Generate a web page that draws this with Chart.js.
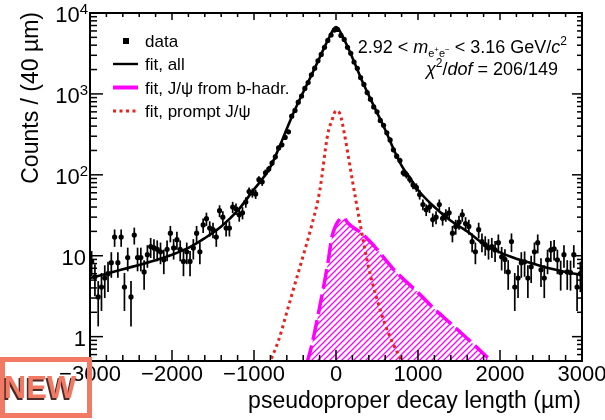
<!DOCTYPE html>
<html>
<head>
<meta charset="utf-8">
<script src="https://cdn.jsdelivr.net/npm/chart.js@4.4.1/dist/chart.umd.min.js"></script>
<style>
  html, body { margin: 0; padding: 0; background: #fff; }
  #wrap { width: 605px; height: 420px; position: relative; }
</style>
</head>
<body>
<div id="wrap"><canvas id="decayChart"></canvas></div>
<script>
// histogram: 150 bins of 40 um from -3000 to 3000 um
const binWidth = 40;
const xMin = -3000, xMax = 3000;
const yMin = 0.5, yMax = 10000;

const counts = [
  8.5, 5.5, 3.1, 4.1, 5.3, 6, 8.2, 17, 8.2, 17, 4.1, 9.5, 3.1, 18, 9.5, 9.5, 6.3, 10.3, 13, 12.5,
  12, 11.2, 8.9, 12, 19, 12.5, 15.8, 12, 8.5, 11.2, 8.5, 12.5, 19, 11.2, 24, 28.7, 22, 21,
  17, 36, 30, 22, 22, 40, 38, 32, 34, 46, 62, 60, 58, 87, 82, 106, 118, 140, 167, 215, 235, 290, 340,
  530, 625, 790, 940, 1170, 1380, 1720, 2080, 2570, 3080, 3770, 4580, 5350, 6150,
  6250, 5280, 4720, 3760, 3170, 2480, 2070, 1590, 1310, 1040, 860, 690, 600, 470,
  410, 330, 270, 204, 170, 150, 106, 100, 88, 75, 70, 57, 43, 37, 40, 28, 30, 43, 29, 32,
  34, 19, 23, 26, 32, 25, 23, 14.9, 11.2, 21, 14.9, 13.7, 12.5, 13, 11.8, 14.5, 9.7, 9, 6.3, 15,
  4.1, 5.3, 8.2, 8.4, 5.3, 7.3, 11.2, 14.5, 6.7, 5.3, 8.9, 11.8, 12.2, 8.9, 6.2, 10.3, 6.3, 6.2, 10.3, 4.1, 6
];
const binCenters = counts.map((c, i) => xMin + binWidth * (i + 0.5));

// fit, all
const fitAllX = [-3000, -2600, -2200, -2000, -1800, -1600, -1400, -1200, -1000, -900, -800, -700, -600, -500, -400, -300, -200, -100, 0,
  100, 200, 300, 400, 500, 600, 700, 800, 900, 1000, 1200, 1400, 1600, 1800, 2000, 2200, 2400, 2600, 2800, 3000];
const fitAllY = [5.3, 6.8, 8.8, 10.3, 12.5, 16.5, 23, 36, 66, 88, 125, 210, 370, 640, 1050, 1700, 2800, 4600, 6700,
  4700, 2800, 1600, 960, 590, 360, 210, 130, 92, 65, 40, 27, 20, 14, 11, 9.2, 8, 7, 6.3, 5.8];

// fit, prompt J/psi
const promptX = [-820, -700, -600, -500, -400, -300, -200, -100, -50, 0, 50, 100, 200, 300, 400, 500, 600, 700, 800];
const promptY = [0.45, 0.9, 2, 4.5, 10, 23, 62, 320, 470, 620, 560, 330, 85, 23, 7, 2.9, 1.4, 0.8, 0.5];

// fit, J/psi from b-hadrons
const bHadrX = [-360, -300, -200, -100, -50, 0, 50, 90, 150, 250, 300, 400, 500, 600, 700, 800, 1000, 1200, 1400, 1600, 1850];
const bHadrY = [0.45, 0.75, 2.3, 8, 17, 24, 28.5, 29.5, 25, 21, 19.5, 15.5, 12, 9, 6.8, 5.4, 3.5, 2.2, 1.45, 0.95, 0.55];

const xTickLabels = [-3000, -2000, -1000, 0, 1000, 2000, 3000];
const yTickLabels = [1, 10, 100, 1000, 10000];

const FONT = "'Liberation Sans', Arial, Helvetica, sans-serif";

function toXY(xs, ys) {
  return xs.map((x, i) => ({ x: x, y: ys[i] }));
}

// diagonal hatch for the b-hadron component
function makeHatch() {
  const c = document.createElement('canvas');
  c.width = 6; c.height = 6;
  const g = c.getContext('2d');
  g.strokeStyle = '#ff00ff';
  g.lineWidth = 1.3;
  g.beginPath();
  g.moveTo(-1, 7); g.lineTo(7, -1);
  g.moveTo(-1, 1); g.lineTo(1, -1);
  g.moveTo(5, 7); g.lineTo(7, 5);
  g.stroke();
  return g.createPattern(c, 'repeat');
}

function drawRich(ctx, parts, xRight, baseline) {
  let w = 0;
  parts.forEach(p => { ctx.font = p[1]; w += ctx.measureText(p[0]).width; });
  let x = xRight - w;
  parts.forEach(p => {
    ctx.font = p[1];
    ctx.fillText(p[0], x, baseline + (p[2] || 0));
    x += ctx.measureText(p[0]).width;
  });
}

function seg(ctx, x1, y1, x2, y2) {
  ctx.beginPath(); ctx.moveTo(x1, y1); ctx.lineTo(x2, y2); ctx.stroke();
}

const rootStyle = {
  id: 'rootStyle',
  afterDatasetDraw(chart, args) {
    if (args.index !== 1) return;
    // vertical error bars on the data points
    const ctx = chart.ctx, xs = chart.scales.x, ys = chart.scales.y, a = chart.chartArea;
    ctx.save();
    ctx.beginPath();
    ctx.rect(a.left, a.top, a.right - a.left, a.bottom - a.top);
    ctx.clip();
    ctx.strokeStyle = '#000';
    ctx.lineWidth = 1.7;
    counts.forEach((c, i) => {
      const e = Math.sqrt(c);
      const px = xs.getPixelForValue(binCenters[i]);
      seg(ctx, px, ys.getPixelForValue(Math.max(c - e, 0.3)), px, ys.getPixelForValue(c + e));
    });
    ctx.restore();
  },
  afterDraw(chart) {
    const ctx = chart.ctx, xs = chart.scales.x, ys = chart.scales.y;
    const { left, right, top, bottom } = chart.chartArea;
    ctx.save();
    ctx.strokeStyle = '#000';
    ctx.fillStyle = '#000';

    // ticks, ROOT style (inside the frame)
    ctx.lineWidth = 1.5;
    for (let v = xMin; v <= xMax; v += 200) {
      const px = xs.getPixelForValue(v);
      const major = v % 1000 === 0;
      seg(ctx, px, bottom, px, bottom - (major ? 11 : 6));
      seg(ctx, px, top, px, top + (major ? 7 : 4));
    }
    for (let e = -1; e <= 4; e++) {
      for (let m = 1; m <= 9; m++) {
        const v = m * Math.pow(10, e);
        if (v < yMin || v > yMax) continue;
        const py = ys.getPixelForValue(v);
        const major = m === 1;
        seg(ctx, left, py, left + (major ? 13 : 7), py);
        seg(ctx, right, py, right - (major ? 10 : 5), py);
      }
    }
    ctx.lineWidth = 2;
    ctx.strokeRect(left, top, right - left, bottom - top);

    // tick labels
    ctx.textAlign = 'center';
    ctx.textBaseline = 'alphabetic';
    ctx.font = '22px ' + FONT;
    xTickLabels.forEach(v => {
      const t = v < 0 ? '\u2212' + Math.abs(v) : String(v);
      ctx.fillText(t, xs.getPixelForValue(v), 381);
    });
    ctx.textAlign = 'left';
    yTickLabels.forEach(v => {
      const py = ys.getPixelForValue(v) + 9;
      const exp = Math.round(Math.log10(v));
      if (exp <= 1) {
        drawRich(ctx, [[String(v), '22px ' + FONT]], 86, py);
      } else {
        drawRich(ctx, [['10', '22px ' + FONT], [String(exp), '15px ' + FONT, -8]], 88, py);
      }
    });

    // axis titles
    ctx.font = '23px ' + FONT;
    ctx.textAlign = 'right';
    ctx.fillText('pseudoproper decay length (\u00b5m)', 581, 408);
    ctx.save();
    ctx.translate(38, 12);
    ctx.rotate(-Math.PI / 2);
    ctx.fillText('Counts / (40 \u00b5m)', 0, 0);
    ctx.restore();

    // legend
    ctx.textAlign = 'left';
    ctx.font = '17px ' + FONT;
    const lx = 145;
    ctx.fillRect(123, 38, 6, 6);
    ctx.fillText('data', lx, 47);
    ctx.lineWidth = 2.4;
    seg(ctx, 113, 64, 138, 64);
    ctx.fillText('fit, all', lx, 70);
    ctx.strokeStyle = '#ff00ff';
    ctx.lineWidth = 4;
    seg(ctx, 113, 87.5, 138, 87.5);
    ctx.fillText('fit, J/\u03c8 from b-hadr.', lx, 93.5);
    ctx.strokeStyle = '#e8231f';
    ctx.lineWidth = 3;
    ctx.setLineDash([3, 3.5]);
    seg(ctx, 113, 111, 138, 111);
    ctx.setLineDash([]);
    ctx.fillText('fit, prompt J/\u03c8', lx, 117);

    // selection and fit quality
    ctx.textAlign = 'left';
    const n18 = '18px ' + FONT, i18 = 'italic 18px ' + FONT;
    drawRich(ctx, [
      ['2.92 < ', n18], ['m', i18], ['e', '11px ' + FONT, 4], ['+', '8px ' + FONT, -1],
      ['e', '11px ' + FONT, 4], ['\u2212', '8px ' + FONT, -1],
      [' < 3.16 GeV/', n18], ['c', i18], ['2', '12px ' + FONT, -8]
    ], 567, 53);
    drawRich(ctx, [
      ['\u03c7', i18], ['2', '12px ' + FONT, -8], ['/', n18], ['dof', i18], [' = 206/149', n18]
    ], 558, 75);

    // "NEW" badge
    ctx.strokeStyle = '#f27a64';
    ctx.lineWidth = 5;
    ctx.strokeRect(2.5, 359.5, 87, 56);
    ctx.font = 'bold 31px ' + FONT;
    ctx.textAlign = 'center';
    ctx.fillStyle = '#4a2a24';
    ctx.fillText('NEW', 38.5, 400);
    ctx.fillStyle = '#f27a64';
    ctx.fillText('NEW', 40, 398);
    ctx.restore();
  }
};

new Chart(document.getElementById('decayChart'), {
  type: 'line',
  data: {
    datasets: [
      {
        label: 'fit, all',
        data: toXY(fitAllX, fitAllY),
        borderColor: '#000',
        borderWidth: 2.6,
        pointRadius: 0,
        cubicInterpolationMode: 'monotone',
        fill: false
      },
      {
        label: 'data',
        data: toXY(binCenters, counts),
        showLine: false,
        pointRadius: 2.6,
        pointStyle: 'circle',
        pointBorderWidth: 0,
        pointBackgroundColor: '#000',
        borderColor: '#000'
      },
      {
        label: 'fit, prompt J/\u03c8',
        data: toXY(promptX, promptY),
        borderColor: '#e8231f',
        borderWidth: 3,
        borderDash: [3, 3.5],
        pointRadius: 0,
        cubicInterpolationMode: 'monotone',
        fill: false
      },
      {
        label: 'fit, J/\u03c8 from b-hadr.',
        data: toXY(bHadrX, bHadrY),
        borderColor: '#ff00ff',
        borderWidth: 3.5,
        borderDash: [20, 6],
        pointRadius: 0,
        cubicInterpolationMode: 'monotone',
        fill: 'start',
        backgroundColor: makeHatch()
      }
    ]
  },
  options: {
    responsive: true,
    maintainAspectRatio: false,
    animation: false,
    layout: { padding: { left: 90, right: 23, top: 13, bottom: 59 } },
    plugins: {
      legend: { display: false },
      tooltip: { enabled: false }
    },
    scales: {
      x: { type: 'linear', min: xMin, max: xMax, display: false },
      y: { type: 'logarithmic', min: yMin, max: yMax, display: false }
    }
  },
  plugins: [rootStyle]
});
</script>
</body>
</html>
